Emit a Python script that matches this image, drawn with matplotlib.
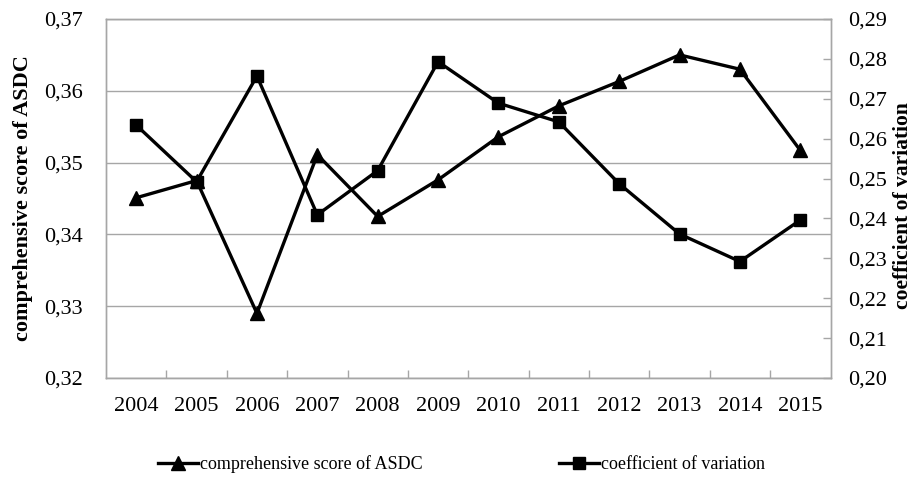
import matplotlib
matplotlib.use("Agg")
import matplotlib.pyplot as plt
from matplotlib.ticker import FuncFormatter, MultipleLocator, FixedLocator

years = ["2004", "2005", "2006", "2007", "2008", "2009", "2010", "2011", "2012", "2013", "2014", "2015"]
asdc_score = [0.3451, 0.3475, 0.3290, 0.3511, 0.3425, 0.3476, 0.3536, 0.3579, 0.3613, 0.3650, 0.3630, 0.3517]
coef_var = [0.2634, 0.2492, 0.2757, 0.2409, 0.2520, 0.2793, 0.2689, 0.2642, 0.2487, 0.2361, 0.2292, 0.2396]
left_label = "comprehensive score of ASDC"
right_label = "coefficient of variation"

plt.rcParams['font.family'] = ['Liberation Serif', 'DejaVu Serif']

fig = plt.figure(figsize=(9.14, 4.79), dpi=100)
ax = fig.add_axes([106/914, 1 - 378/479, (830.5-106)/914, (378-19)/479])
ax2 = ax.twinx()

x = list(range(len(years)))
grid_c = '#a6a6a6'

l1, = ax.plot(x, asdc_score, color='black', lw=2.4, marker='^', ms=10, zorder=3)
l2, = ax2.plot(x, coef_var, color='black', lw=2.4, marker='s', ms=8.5, zorder=3)

ax.set_xlim(-0.5, len(years) - 0.5)
ax.set_ylim(0.32, 0.37)
ax2.set_ylim(0.20, 0.29)
ax.yaxis.set_major_locator(MultipleLocator(0.01))
ax2.yaxis.set_major_locator(MultipleLocator(0.01))
fmt = FuncFormatter(lambda v, p: f"{v:.2f}".replace('.', ','))
ax.yaxis.set_major_formatter(fmt)
ax2.yaxis.set_major_formatter(fmt)

ax.set_xticks(x)
ax.set_xticklabels(years)
ax.xaxis.set_minor_locator(FixedLocator([i + 0.5 for i in range(len(years) - 1)]))
ax.tick_params(axis='x', which='major', length=0, pad=14, labelsize=16)
ax.tick_params(axis='x', which='minor', length=6, direction='in', color=grid_c, width=1)
ax.tick_params(axis='y', length=0, pad=17, labelsize=16)
ax2.tick_params(axis='y', length=6, direction='in', color=grid_c, width=1, pad=13, labelsize=16)

ax.grid(axis='y', color=grid_c, lw=1)
ax.set_axisbelow(True)
for a in (ax, ax2):
    for s in a.spines.values():
        s.set_color(grid_c)
        s.set_linewidth(1)

ax.set_ylabel(left_label, fontsize=16, fontweight='bold')
ax2.set_ylabel(right_label, fontsize=15.5, fontweight='bold')
ax.yaxis.set_label_coords(-0.101, 0.5)
ax2.yaxis.set_label_coords(1.086, 0.48)

fig.legend([l1, l2], [left_label, right_label], loc='center', bbox_to_anchor=(0.505, 1 - 464/479),
           ncol=2, frameon=False, fontsize=13, handlelength=2.2, handletextpad=0.1, columnspacing=7.6)

fig.savefig("out.png", dpi=100)
